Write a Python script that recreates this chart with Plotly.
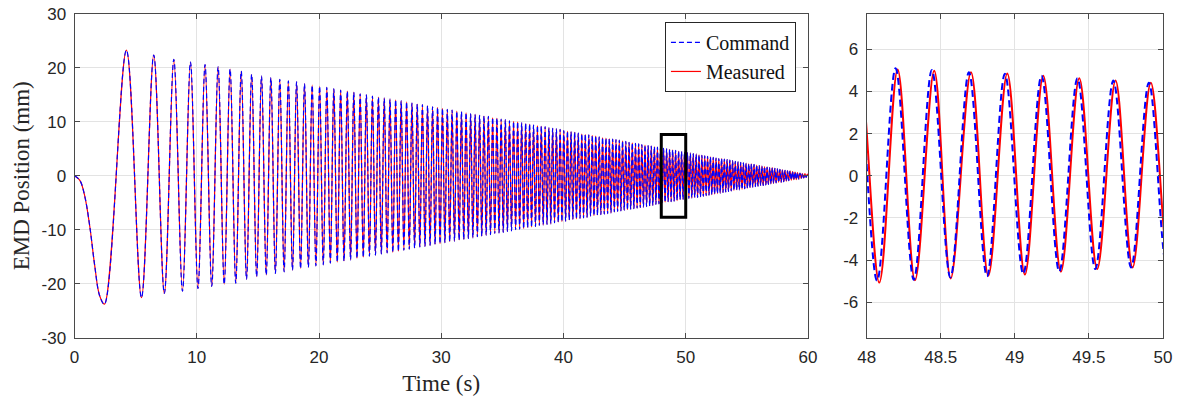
import plotly.graph_objects as go

# ---------------- DATA ----------------
# Full record (left panel): start of the sweep, then every peak / trough of the
# chirp, ending at t = 60 s.
full_t = [0.0, 0.45, 0.85, 1.25, 1.65, 2.05,
    2.449, 4.243, 5.477, 6.481, 7.348, 8.124, 8.832, 9.487, 10.100, 10.677,
    11.225, 11.747, 12.247, 12.728, 13.191, 13.638, 14.071, 14.491, 14.900, 15.297,
    15.684, 16.062, 16.432, 16.793, 17.146, 17.493, 17.833, 18.166, 18.493, 18.815,
    19.131, 19.442, 19.748, 20.050, 20.347, 20.640, 20.928, 21.213, 21.494, 21.772,
    22.045, 22.316, 22.583, 22.847, 23.108, 23.367, 23.622, 23.875, 24.125, 24.372,
    24.617, 24.860, 25.100, 25.338, 25.573, 25.807, 26.038, 26.268, 26.495, 26.721,
    26.944, 27.166, 27.386, 27.604, 27.821, 28.036, 28.249, 28.460, 28.671, 28.879,
    29.086, 29.292, 29.496, 29.698, 29.900, 30.100, 30.299, 30.496, 30.692, 30.887,
    31.081, 31.273, 31.464, 31.654, 31.843, 32.031, 32.218, 32.404, 32.588, 32.772,
    32.955, 33.136, 33.317, 33.496, 33.675, 33.853, 34.029, 34.205, 34.380, 34.554,
    34.728, 34.900, 35.071, 35.242, 35.412, 35.581, 35.749, 35.917, 36.083, 36.249,
    36.414, 36.579, 36.742, 36.905, 37.068, 37.229, 37.390, 37.550, 37.709, 37.868,
    38.026, 38.184, 38.341, 38.497, 38.652, 38.807, 38.962, 39.115, 39.268, 39.421,
    39.573, 39.724, 39.875, 40.025, 40.175, 40.324, 40.472, 40.620, 40.768, 40.915,
    41.061, 41.207, 41.352, 41.497, 41.641, 41.785, 41.929, 42.071, 42.214, 42.356,
    42.497, 42.638, 42.779, 42.919, 43.058, 43.197, 43.336, 43.474, 43.612, 43.749,
    43.886, 44.023, 44.159, 44.294, 44.430, 44.565, 44.699, 44.833, 44.967, 45.100,
    45.233, 45.365, 45.497, 45.629, 45.760, 45.891, 46.022, 46.152, 46.282, 46.411,
    46.540, 46.669, 46.797, 46.925, 47.053, 47.180, 47.307, 47.434, 47.560, 47.686,
    47.812, 47.937, 48.062, 48.187, 48.311, 48.436, 48.559, 48.683, 48.806, 48.929,
    49.051, 49.173, 49.295, 49.417, 49.538, 49.659, 49.780, 49.900, 50.020, 50.140,
    50.259, 50.379, 50.498, 50.616, 50.735, 50.853, 50.971, 51.088, 51.205, 51.322,
    51.439, 51.556, 51.672, 51.788, 51.904, 52.019, 52.134, 52.249, 52.364, 52.479,
    52.593, 52.707, 52.820, 52.934, 53.047, 53.160, 53.273, 53.385, 53.498, 53.610,
    53.721, 53.833, 53.944, 54.056, 54.166, 54.277, 54.388, 54.498, 54.608, 54.718,
    54.827, 54.937, 55.045, 55.154, 55.263, 55.371, 55.480, 55.588, 55.696, 55.803,
    55.911, 56.018, 56.125, 56.232, 56.338, 56.445, 56.551, 56.657, 56.763, 56.868,
    56.974, 57.079, 57.184, 57.289, 57.393, 57.498, 57.602, 57.706, 57.810, 57.914,
    58.017, 58.121, 58.224, 58.327, 58.429, 58.532, 58.634, 58.737, 58.839, 58.941,
    59.042, 59.144, 59.245, 59.346, 59.447, 59.548, 59.649, 59.749, 59.850, 59.950,
    60.0]

full_command = [0.0, -0.9, -3.9, -9.4, -16.6, -22.2,
    -23.8, 23.3, -22.6, 22.4, -21.8, 21.6, -21.4, 21.1, -20.9, 20.6,
    -20.5, 20.2, -20.1, 19.8, -19.9, 19.4, -19.2, 18.8, -18.7, 18.5,
    -18.4, 18.2, -18.1, 17.9, -17.8, 17.6, -17.5, 17.4, -17.2, 17.1,
    -17.0, 16.8, -16.7, 16.6, -16.5, 16.4, -16.2, 16.1, -16.0, 15.9,
    -15.8, 15.7, -15.6, 15.5, -15.3, 15.2, -15.1, 15.0, -14.9, 14.8,
    -14.7, 14.6, -14.5, 14.4, -14.3, 14.2, -14.2, 14.1, -14.0, 13.9,
    -13.8, 13.7, -13.6, 13.5, -13.4, 13.3, -13.2, 13.2, -13.1, 13.0,
    -12.9, 12.8, -12.7, 12.7, -12.6, 12.5, -12.4, 12.3, -12.2, 12.2,
    -12.1, 12.0, -11.9, 11.9, -11.8, 11.7, -11.6, 11.5, -11.5, 11.4,
    -11.3, 11.2, -11.2, 11.1, -11.0, 11.0, -10.9, 10.8, -10.7, 10.7,
    -10.6, 10.5, -10.5, 10.4, -10.3, 10.2, -10.2, 10.1, -10.0, 10.0,
    -9.9, 9.8, -9.8, 9.7, -9.6, 9.6, -9.5, 9.4, -9.4, 9.3,
    -9.2, 9.2, -9.1, 9.1, -9.0, 8.9, -8.9, 8.8, -8.7, 8.7,
    -8.6, 8.6, -8.5, 8.4, -8.4, 8.3, -8.2, 8.2, -8.1, 8.1,
    -8.0, 7.9, -7.9, 7.8, -7.8, 7.7, -7.7, 7.6, -7.5, 7.5,
    -7.4, 7.4, -7.3, 7.2, -7.2, 7.1, -7.1, 7.0, -7.0, 6.9,
    -6.9, 6.8, -6.7, 6.7, -6.6, 6.6, -6.5, 6.5, -6.4, 6.4,
    -6.3, 6.2, -6.2, 6.1, -6.1, 6.0, -6.0, 5.9, -5.9, 5.8,
    -5.8, 5.7, -5.7, 5.6, -5.6, 5.5, -5.5, 5.4, -5.3, 5.3,
    -5.2, 5.2, -5.0, 5.1, -4.9, 5.0, -4.8, 4.9, -4.8, 4.8,
    -4.7, 4.7, -4.6, 4.6, -4.4, 4.5, -4.4, 4.4, -4.3, 4.3,
    -4.2, 4.2, -4.1, 4.1, -4.0, 4.0, -4.0, 3.9, -3.9, 3.8,
    -3.8, 3.7, -3.7, 3.6, -3.6, 3.5, -3.5, 3.4, -3.4, 3.3,
    -3.3, 3.2, -3.2, 3.2, -3.1, 3.1, -3.0, 3.0, -2.9, 2.9,
    -2.8, 2.8, -2.7, 2.7, -2.6, 2.6, -2.6, 2.5, -2.5, 2.4,
    -2.4, 2.3, -2.3, 2.2, -2.2, 2.2, -2.1, 2.1, -2.0, 2.0,
    -1.9, 1.9, -1.8, 1.8, -1.8, 1.7, -1.7, 1.6, -1.6, 1.5,
    -1.5, 1.5, -1.4, 1.4, -1.3, 1.3, -1.2, 1.2, -1.2, 1.1,
    -1.1, 1.0, -1.0, 0.9, -0.9, 0.9, -0.8, 0.8, -0.7, 0.7,
    -0.7, 0.6, -0.6, 0.5, -0.5, 0.4, -0.4, 0.4, -0.3, 0.3,
    0.0]

# At the full-record scale the measured response is indistinguishable from the command
full_measured = list(full_command)

# Zoomed window 48-50 s (right panel): peaks / troughs
zoom_t_command = [47.812, 47.937, 48.070, 48.195, 48.318, 48.440, 48.565, 48.690,
                  48.812, 48.933, 49.057, 49.180, 49.300, 49.423, 49.543, 49.665,
                  49.785, 49.905, 50.025, 50.145]
zoom_command = [-5.2, 5.2, -4.98, 5.10, -4.93, 5.02, -4.82, 4.91,
                -4.77, 4.84, -4.66, 4.75, -4.55, 4.63, -4.43, 4.52,
                -4.35, 4.42, -4.30, 4.30]
zoom_t_measured = [47.827, 47.952, 48.085, 48.209, 48.326, 48.456, 48.567, 48.704,
                   48.821, 48.949, 49.068, 49.192, 49.311, 49.435, 49.556, 49.680,
                   49.795, 49.918, 50.040, 50.160]
zoom_measured = [-5.2, 5.2, -5.07, 5.05, -4.96, 4.99, -4.87, 4.91,
                 -4.74, 4.86, -4.69, 4.75, -4.55, 4.63, -4.43, 4.52,
                 -4.35, 4.42, -4.30, 4.30]

# Tick labels
left_x_ticks = [0, 10, 20, 30, 40, 50, 60]
left_y_ticks = [-30, -20, -10, 0, 10, 20, 30]
left_y_labels = ["-30", "-20", "-10", "0", "10", "20", "30"]
right_x_ticks = [48, 48.5, 49, 49.5, 50]
right_x_labels = ["48", "48.5", "49", "49.5", "50"]
right_y_ticks = [-6, -4, -2, 0, 2, 4, 6]
right_y_labels = ["-6", "-4", "-2", "0", "2", "4", "6"]
zoom_window = [48, 50]
zoom_y_range = [-7.68, 7.68]

# ---------------- FIGURE ----------------
BLUE = "#0000ff"
RED = "#ff0000"
AXC = "#4a4a4a"
GRID = "#e3e3e3"
TICKFONT = dict(family="Liberation Sans, Arial, sans-serif", size=17, color="#262626")
SERIF = "Liberation Serif, Times New Roman, serif"

fig = go.Figure()
fig.add_trace(go.Scatter(x=full_t, y=full_measured, mode="lines", name="Measured",
                         line=dict(color=RED, width=1.2, shape="spline"),
                         legendrank=2, xaxis="x", yaxis="y"))
fig.add_trace(go.Scatter(x=full_t, y=full_command, mode="lines", name="Command",
                         line=dict(color=BLUE, width=1.2, dash="5px,3px", shape="spline"),
                         legendrank=1, xaxis="x", yaxis="y"))
fig.add_trace(go.Scatter(x=zoom_t_measured, y=zoom_measured, mode="lines", name="Measured",
                         line=dict(color=RED, width=2, shape="spline"),
                         showlegend=False, xaxis="x2", yaxis="y2"))
fig.add_trace(go.Scatter(x=zoom_t_command, y=zoom_command, mode="lines", name="Command",
                         line=dict(color=BLUE, width=2, dash="7px,4px", shape="spline"),
                         showlegend=False, xaxis="x2", yaxis="y2"))

common = dict(ticks="inside", ticklen=5, tickcolor=AXC, showline=True, linecolor=AXC,
              linewidth=1, mirror="ticks", showgrid=True, gridcolor=GRID, gridwidth=1,
              zeroline=False, tickfont=TICKFONT)

fig.update_layout(
    width=1179, height=399,
    margin=dict(l=0, r=0, t=0, b=0),
    paper_bgcolor="white", plot_bgcolor="white",
    xaxis=dict(domain=[0.0632, 0.6853], range=[0, 60], tickvals=left_x_ticks,
               ticklabelstandoff=4,
               title=dict(text="Time (s)", font=dict(family=SERIF, size=23, color="#262626"),
                          standoff=8),
               anchor="y", automargin=False, **common),
    yaxis=dict(domain=[0.1539, 0.9649], range=[-30, 30], tickvals=left_y_ticks,
               ticktext=left_y_labels, ticklabelstandoff=4,
               title=dict(text="EMD Position (mm)",
                          font=dict(family=SERIF, size=23, color="#262626"), standoff=5),
               anchor="x", automargin=False, **common),
    xaxis2=dict(domain=[0.7351, 0.9864], range=zoom_window, tickvals=right_x_ticks,
                ticktext=right_x_labels, ticklabelstandoff=4,
                anchor="y2", automargin=False, **common),
    yaxis2=dict(domain=[0.1539, 0.9649], range=zoom_y_range, tickvals=right_y_ticks,
                ticktext=right_y_labels, ticklabelstandoff=4,
                anchor="x2", automargin=False, **common),
    legend=dict(x=0.6751, xanchor="right", y=0.945, yanchor="top",
                bgcolor="white", bordercolor="#262626", borderwidth=1,
                font=dict(family=SERIF, size=20, color="#111111"),
                tracegroupgap=0, itemwidth=30),
    shapes=[dict(type="rect", xref="x", yref="y",
                 x0=zoom_window[0], x1=zoom_window[1],
                 y0=zoom_y_range[0], y1=zoom_y_range[1],
                 line=dict(color="black", width=3), layer="above")],
)

fig.write_html("out.html")
